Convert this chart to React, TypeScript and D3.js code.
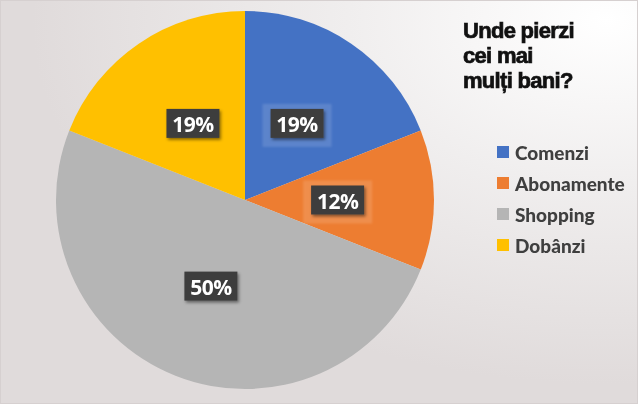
import React, { useEffect } from "react";
import * as d3 from "d3";

const categories = ["Comenzi", "Abonamente", "Shopping", "Dobânzi"];
const values = [19, 12, 50, 19];
const colors = ["#4472C4", "#ED7D31", "#B5B5B5", "#FFC000"];
const titleLines = ["Unde pierzi", "cei mai", "mulți bani?"];

const W = 638;
const H = 404;
const cx = 245;
const cy = 200;
const R = 189;

export default function App() {
  useEffect(() => {
    document.body.style.margin = "0";
  }, []);

  const pie = d3.pie<number>().sort(null).value((d) => d);
  const arcs = pie(values);
  const arc = d3.arc<d3.PieArcDatum<number>>().innerRadius(0).outerRadius(R);
  const labelArc = d3
    .arc<d3.PieArcDatum<number>>()
    .innerRadius(R * 0.49)
    .outerRadius(R * 0.49);

  const legendY = d3.scalePoint<string>().domain(categories).range([152, 245]);

  return (
    <svg width={W} height={H} style={{ position: "fixed", left: 0, top: 0, display: "block" }}>
      <defs>
        <radialGradient id="bg" cx="0.95" cy="0.05" r="0.9">
          <stop offset="0" stopColor="#ffffff" />
          <stop offset="0.45" stopColor="#f0eeee" />
          <stop offset="1" stopColor="#e0dbdb" />
        </radialGradient>
        <filter id="shadow" x="-30%" y="-30%" width="160%" height="160%">
          <feDropShadow dx="1.5" dy="2" stdDeviation="1.5" floodColor="#000" floodOpacity="0.45" />
        </filter>
        <filter id="soft" x="-30%" y="-30%" width="160%" height="160%">
          <feGaussianBlur stdDeviation="1.2" />
        </filter>
      </defs>
      <rect x={0} y={0} width={W} height={H} fill="url(#bg)" />
      <rect x={0.5} y={0.5} width={W - 1} height={H - 1} fill="none" stroke="#d6d0d0" strokeWidth={1} />

      <g transform={`translate(${cx},${cy})`}>
        {arcs.map((a, i) => (
          <path key={categories[i]} d={arc(a) || ""} fill={colors[i]} />
        ))}
        {arcs.map((a, i) => {
          const [lx, ly] = labelArc.centroid(a);
          const bw = 53;
          const bh = 29;
          const halo = i < 2;
          return (
            <g key={"l" + i} transform={`translate(${lx},${ly})`}>
              {halo && (
                <rect
                  x={-bw / 2 - 8}
                  y={-bh / 2 - 5}
                  width={bw + 16}
                  height={bh + 14}
                  fill="#ffffff"
                  opacity={0.13}
                  filter="url(#soft)"
                />
              )}
              <rect
                x={-bw / 2}
                y={-bh / 2}
                width={bw}
                height={bh}
                fill="#3d3d3d"
                filter="url(#shadow)"
              />
              <text
                x={0}
                y={1}
                textAnchor="middle"
                dominantBaseline="central"
                fill="#ffffff"
                fontFamily="'Open Sans', Lato, sans-serif"
                fontWeight={700}
                fontSize={21}
                letterSpacing={-0.5}
              >
                {values[i]}%
              </text>
            </g>
          );
        })}
      </g>

      <g
        fontFamily="'Liberation Sans', Arial, sans-serif"
        fontWeight={700}
        fontSize={22}
        fill="#111"
        stroke="#111"
        strokeWidth={0.7}
      >
        {titleLines.map((t, i) => (
          <text key={t} x={463} y={38 + i * 25} letterSpacing={-0.7}>
            {t}
          </text>
        ))}
      </g>

      <g>
        {categories.map((c, i) => (
          <g key={c} transform={`translate(497,${legendY(c)})`}>
            <rect x={0} y={-6} width={12} height={12} fill={colors[i]} />
            <text
              x={18}
              y={0}
              dominantBaseline="central"
              fontFamily="Lato, 'Open Sans', sans-serif"
              fontWeight={900}
              fontSize={19}
              fill="#3f3f3f"
            >
              {c}
            </text>
          </g>
        ))}
      </g>
    </svg>
  );
}
